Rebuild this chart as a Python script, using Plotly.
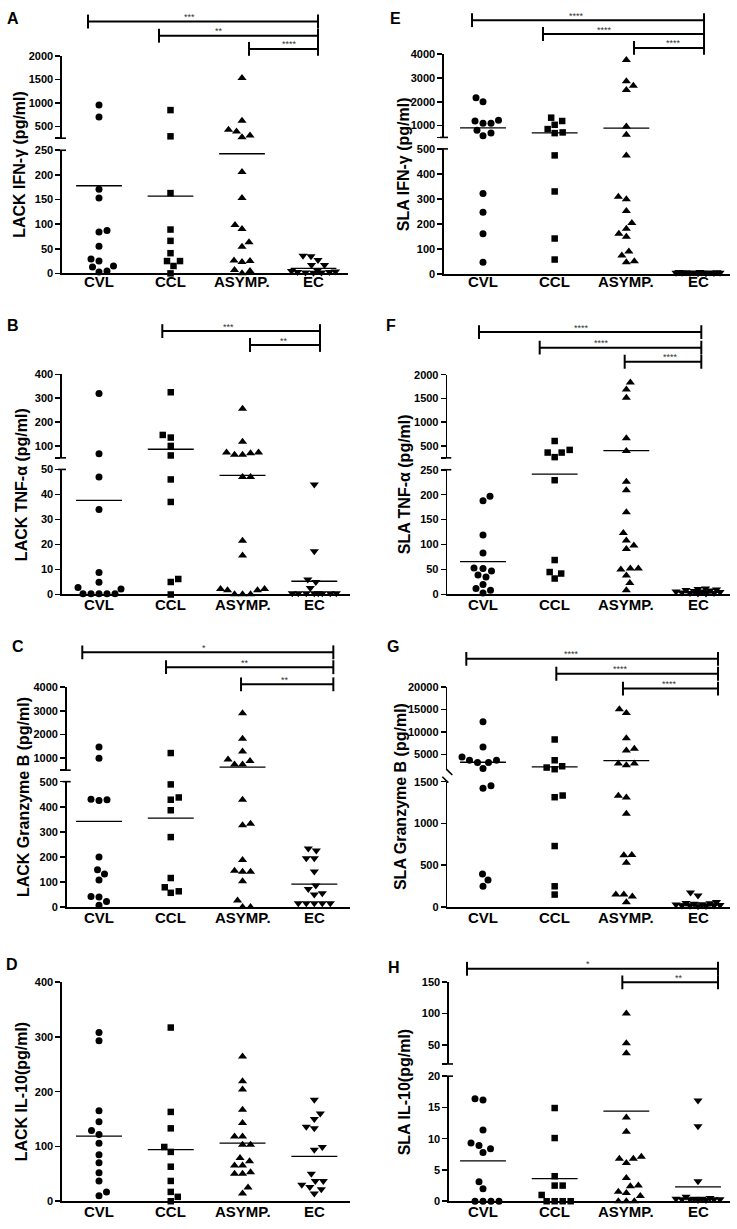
import plotly.graph_objects as go

W, H = 737, 1229
FONT = "Liberation Sans, Arial, Helvetica, sans-serif"

CATEGORIES = ["CVL", "CCL", "ASYMP.", "EC"]
SYMBOLS = ["circle", "square", "triangle-up", "triangle-down"]
SIZES = [7, 6.5, 8, 8]

# ---------------- data (pg/ml) ----------------
# A: LACK IFN-gamma
A_cvl = [960, 700, 171, 153, 87, 84, 55, 29, 25, 13, 15, 3, 5]
A_ccl = [850, 290, 163, 89, 66, 41, 25, 25, 15, 0]
A_asymp = [1535, 620, 395, 270, 310, 430, 206, 153, 98, 90, 63, 54, 25, 23, 26, 7, 0, 5]
A_ec = [35, 27, 36, 17, 17, 5, 3, 2, 4, 6, 3, 2, 1]
A_means = [178, 157, 243, 10]

# E: SLA IFN-gamma
E_cvl = [2170, 2000, 1220, 1100, 1100, 1190, 800, 570, 680, 322, 247, 161, 47]
E_ccl = [1330, 1190, 1030, 850, 680, 710, 474, 330, 142, 58]
E_asymp = [3760, 2860, 2670, 2490, 960, 610, 474, 309, 299, 252, 204, 181, 161, 149, 90, 74, 51, 47]
E_ec = [8, 6, 5, 4, 7, 3, 5, 6, 4, 8, 5, 3, 6, 7]
E_means = [900, 690, 890, 5]

# B: LACK TNF-alpha
B_cvl = [320, 67, 47, 34, 8.8, 4.9, 2.8, 2.2, 0.3, 0.3, 0.3, 0.3, 0.3]
B_ccl = [325, 146, 135, 100, 60, 46, 37, 6.2, 5, 0]
B_asymp = [256, 118, 72, 69, 63, 63, 72, 47, 47, 21.5, 15.6, 2.2, 1.7, 0.1, 0.1, 0.1, 1.7, 2.2]
B_ec = [44, 17.3, 6, 5, 2.6, 0.5, 0.5, 0.5, 0.5, 0.5, 0.5, 0.5, 0.5]
B_means = [37.6, 86, 47.6, 5.3]

# F: SLA TNF-alpha
F_cvl = [197, 188, 119, 83, 52, 53, 47, 39, 35, 20, 12, 3, 8.6]
F_ccl = [604, 417, 361, 265, 361, 229, 69, 45, 42, 32]
F_asymp = [1833, 1687, 1514, 660, 396, 226, 209, 165, 123, 108, 98, 91, 52, 50, 52, 38, 23, 8.6]
F_ec = [9, 6, 11, 4, 12, 2, 3, 5, 8, 10, 3, 2, 7, 6]
F_means = [66, 241, 400, 5.5]

# C: LACK Granzyme B
C_cvl = [1470, 1000, 430, 425, 428, 200, 149, 132, 108, 42, 40, 22, 7]
C_ccl = [1220, 489, 428, 437, 386, 279, 116, 79, 57, 63]
C_asymp = [2900, 1820, 1290, 890, 944, 736, 736, 428, 326, 332, 188, 141, 145, 141, 103, 26, 0, 0]
C_ec = [234, 226, 195, 195, 142, 86, 72, 55, 50, 15, 15, 15, 15, 15]
C_means = [342, 355, 625, 92]

# G: SLA Granzyme B
G_cvl = [12280, 6620, 3680, 4410, 3160, 3160, 3680, 1840, 1420, 1450, 395, 249, 324]
G_ccl = [8310, 3680, 2060, 1690, 2350, 1314, 1334, 730, 150, 249]
G_asymp = [15070, 14190, 8600, 6250, 5880, 2940, 2575, 2940, 1330, 1310, 1117, 620, 624, 529, 150, 126, 150, 59]
G_ec = [140, 175, 60, 40, 30, 20, 15, 10, 12, 18, 25, 35, 50, 45]
G_means = [3240, 2210, 3600, 39]

# D: LACK IL-10
D_cvl = [308, 293, 165, 145, 129, 122, 106, 85, 70, 52, 37, 17, 10]
D_ccl = [317, 163, 133, 99, 90, 63, 37, 17, 8, 0]
D_asymp = [264, 219, 204, 167, 143, 118, 118, 103, 103, 79, 73, 65, 65, 50, 50, 53, 25, 14]
D_ec = [185, 160, 150, 136, 133, 94, 99, 50, 37, 37, 30, 26, 22, 14]
D_means = [118.7, 94, 106, 82]

# H: SLA IL-10
H_cvl = [16.2, 16.4, 11.4, 8.9, 7.8, 8.4, 9.3, 3.1, 2.0, 0, 0, 0, 0]
H_ccl = [14.9, 10.1, 4.0, 2.5, 2.5, 1.0, 0, 0, 0, 0]
H_asymp = [100, 53, 37, 13.4, 11.1, 7.1, 6.8, 6.1, 6.8, 3.7, 2.4, 2.5, 1.3, 1.5, 0.85, 0, 0, 0]
H_ec = [16.1, 12.0, 3.2, 0.7, 0.4, 0.3, 0.3, 0.2, 0.3, 0.4, 0.2, 0.3, 0.4, 0.5]
H_means = [6.44, 3.6, 14.4, 2.3]

# ---------------- panel layout ----------------
PANELS = [
    dict(letter="A", ylabel="LACK IFN-γ (pg/ml)", groups=[A_cvl, A_ccl, A_asymp, A_ec], means=A_means,
         lower=(0, 250), lticks=[0, 50, 100, 150, 200, 250], upper=(250, 2000), uticks=[500, 1000, 1500, 2000],
         x=(62, 348), cat0=99, dx=71.5, y0=270, ylt=145.7, yub=133.5, yut=50.7, brk="cap",
         letter_xy=(12.5, 13), ylab_x=20, xlab_y=278,
         sig=[(-0.154, 3.063, 15.7, "***", 1.27), (0.839, 3.063, 30, "**", 1.68), (2.098, 3.063, 43.3, "****", 2.66)]),
    dict(letter="E", ylabel="SLA IFN-γ (pg/ml)", groups=[E_cvl, E_ccl, E_asymp, E_ec], means=E_means,
         lower=(0, 500), lticks=[0, 100, 200, 300, 400, 500], upper=(500, 4000), uticks=[1000, 2000, 3000, 4000],
         x=(444, 729.7), cat0=483, dx=71.67, y0=270.7, ylt=144.3, yub=132.7, yut=48.7, brk="cap",
         letter_xy=(395, 13), ylab_x=403, xlab_y=278,
         sig=[(-0.153, 3.084, 14.3, "****", 1.30), (0.837, 3.084, 28.3, "****", 1.69), (2.107, 3.084, 42.3, "****", 2.66)]),
    dict(letter="B", ylabel="LACK TNF-α (pg/ml)", groups=[B_cvl, B_ccl, B_asymp, B_ec], means=B_means,
         lower=(0, 50), lticks=[0, 10, 20, 30, 40, 50], upper=(50, 400), uticks=[100, 200, 300, 400],
         x=(62, 350), cat0=99, dx=71.77, y0=594.3, ylt=468, yub=456.3, yut=372, brk="cap",
         letter_xy=(13, 323), ylab_x=21.7, xlab_y=604,
         sig=[(0.882, 3.079, 328.3, "***", 1.80), (2.104, 3.079, 342.3, "**", 2.58)]),
    dict(letter="F", ylabel="SLA TNF-α (pg/ml)", groups=[F_cvl, F_ccl, F_asymp, F_ec], means=F_means,
         lower=(0, 250), lticks=[0, 50, 100, 150, 200, 250], upper=(250, 2000), uticks=[500, 1000, 1500, 2000],
         x=(447.3, 729.7), cat0=483, dx=71.67, y0=594.3, ylt=468.3, yub=456.3, yut=372.3, brk="cap",
         letter_xy=(391, 323), ylab_x=404.7, xlab_y=604,
         sig=[(-0.056, 3.046, 329.3, "****", 1.37), (0.791, 3.046, 345, "****", 1.65), (1.977, 3.046, 359.3, "****", 2.62)]),
    dict(letter="C", ylabel="LACK Granzyme B (pg/ml)", groups=[C_cvl, C_ccl, C_asymp, C_ec], means=C_means,
         lower=(0, 500), lticks=[0, 100, 200, 300, 400, 500], upper=(500, 4000), uticks=[1000, 2000, 3000, 4000],
         x=(66.7, 350), cat0=99, dx=71.77, y0=910, ylt=783.3, yub=771.7, yut=687.7, brk="cap",
         letter_xy=(18, 647), ylab_x=23, xlab_y=920,
         sig=[(-0.233, 3.265, 652.7, "*", 1.46), (0.934, 3.265, 667.7, "**", 2.03), (1.979, 3.265, 685, "**", 2.59)]),
    dict(letter="G", ylabel="SLA Granzyme B (pg/ml)", groups=[G_cvl, G_ccl, G_asymp, G_ec], means=G_means,
         lower=(0, 1500), lticks=[0, 500, 1000, 1500], upper=(1500, 20000), uticks=[5000, 10000, 15000, 20000],
         x=(447.3, 729.7), cat0=483, dx=71.67, y0=910, ylt=783.3, yub=771.6, yut=687.7, brk="diag",
         letter_xy=(393, 647), ylab_x=400, xlab_y=920,
         sig=[(-0.233, 3.279, 659.3, "****", 1.24), (1.023, 3.279, 674.3, "****", 1.92), (1.953, 3.279, 689.3, "****", 2.60)]),
    dict(letter="D", ylabel="LACK IL-10(pg/ml)", groups=[D_cvl, D_ccl, D_asymp, D_ec], means=D_means,
         lower=(0, 400), lticks=[0, 100, 200, 300, 400], upper=None, uticks=[],
         x=(62, 350), cat0=99, dx=71.77, y0=1207, ylt=985.7, yub=None, yut=None, brk=None,
         letter_xy=(12, 968), ylab_x=21.7, xlab_y=1217, sig=[]),
    dict(letter="H", ylabel="SLA IL-10(pg/ml)", groups=[H_cvl, H_ccl, H_asymp, H_ec], means=H_means,
         lower=(0, 20), lticks=[0, 5, 10, 15, 20], upper=(20, 150), uticks=[50, 100, 150],
         x=(449, 729.7), cat0=483, dx=71.67, y0=1207, ylt=1080.7, yub=1068.4, yut=985.7, brk="cap",
         letter_xy=(394, 971), ylab_x=404.7, xlab_y=1217,
         sig=[(-0.223, 3.279, 972.3, "*", 1.47), (1.944, 3.279, 986, "**", 2.74)]),
]

AXW = 1.6
MAXW = 22.0  # max half-width (px) of a swarm row


def xp(px):
    return px / W


def yp(py):
    return 1 - py / H


def value_px(p, v):
    lo_max = p["lower"][1]
    if p["upper"] is None or v <= lo_max:
        return p["y0"] - v / lo_max * (p["y0"] - p["ylt"])
    umin, umax = p["upper"]
    return p["yub"] - (v - umin) / (umax - umin) * (p["yub"] - p["yut"])


def swarm(vals, p, dist=8.0):
    ys = [value_px(p, v) for v in vals]
    order = sorted(range(len(vals)), key=lambda i: -ys[i])
    placed, offs, flip = [], [0.0] * len(vals), 1
    for i in order:
        y = ys[i]
        found, best, best_d = None, 0.0, -1.0
        k = 0
        while found is None and k * 0.5 <= MAXW:
            for s in ((1, -1) if flip > 0 else (-1, 1)):
                x = s * k * 0.5
                dmin = min([((x - a) ** 2 + (y - b) ** 2) ** 0.5 for a, b in placed] or [1e9])
                if dmin >= dist:
                    found = x
                    break
                if dmin > best_d:
                    best_d, best = dmin, x
            k += 1
        if found is None:
            found = best
        if found != 0:
            flip = -flip
        placed.append((found, y))
        offs[i] = found
    return offs


fig = go.Figure()
layout = dict(width=W, height=H, margin=dict(l=0, r=0, t=0, b=0), paper_bgcolor="white",
              plot_bgcolor="rgba(0,0,0,0)", showlegend=False, font=dict(family=FONT, color="black"))
shapes, annotations = [], []
yidx = 0

for pi, p in enumerate(PANELS):
    xi = pi + 1
    xname = "x" if xi == 1 else f"x{xi}"
    yidx += 1
    lo_i = yidx
    ylo = "y" if lo_i == 1 else f"y{lo_i}"
    yhi = None
    if p["upper"] is not None:
        yidx += 1
        yhi = f"y{yidx}"
    r0 = (p["x"][0] - p["cat0"]) / p["dx"]
    r1 = (p["x"][1] - p["cat0"]) / p["dx"]

    layout["xaxis" if xi == 1 else f"xaxis{xi}"] = dict(
        domain=[xp(p["x"][0]), xp(p["x"][1])], range=[r0, r1], anchor=ylo,
        showline=True, linewidth=AXW, linecolor="black", ticks="", showgrid=False, zeroline=False,
        showticklabels=False, fixedrange=True)
    layout["yaxis" if lo_i == 1 else f"yaxis{lo_i}"] = dict(
        domain=[yp(p["y0"]), yp(p["ylt"])], range=list(p["lower"]), anchor=xname,
        showline=True, linewidth=AXW, linecolor="black", ticks="outside", ticklen=5,
        tickwidth=AXW, tickcolor="black", showgrid=False, zeroline=False,
        tickvals=p["lticks"], ticktext=[str(t) for t in p["lticks"]],
        tickfont=dict(family=FONT, size=11, color="black", weight="bold"), fixedrange=True)
    if yhi:
        umin = p["upper"][0]
        tv = ([umin] if p["brk"] == "cap" else []) + p["uticks"]
        tt = ([""] if p["brk"] == "cap" else []) + [str(t) for t in p["uticks"]]
        layout[f"yaxis{yidx}"] = dict(
            domain=[yp(p["yub"]), yp(p["yut"])], range=list(p["upper"]), anchor=xname,
            showline=True, linewidth=AXW, linecolor="black", ticks="outside", ticklen=5,
            tickwidth=AXW, tickcolor="black", showgrid=False, zeroline=False,
            tickvals=tv, ticktext=tt,
            tickfont=dict(family=FONT, size=11, color="black", weight="bold"), fixedrange=True)
        ax = p["x"][0]
        if p["brk"] == "cap":
            for yy in (p["ylt"], p["yub"]):
                shapes.append(dict(type="line", xref="paper", yref="paper",
                                   x0=xp(ax - 4), x1=xp(ax + 4), y0=yp(yy), y1=yp(yy),
                                   line=dict(color="black", width=AXW)))
        else:
            shapes.append(dict(type="line", xref="paper", yref="paper",
                               x0=xp(ax - 1), x1=xp(ax + 5), y0=yp(p["yub"] - 1), y1=yp(p["yub"] + 5),
                               line=dict(color="black", width=AXW)))
            shapes.append(dict(type="line", xref="paper", yref="paper",
                               x0=xp(ax - 5), x1=xp(ax + 1), y0=yp(p["ylt"] - 5), y1=yp(p["ylt"] + 1),
                               line=dict(color="black", width=AXW)))

    # category labels
    for gi, cat in enumerate(CATEGORIES):
        annotations.append(dict(text=cat, xref=xname, yref="paper", x=gi, y=yp(p["xlab_y"]),
                                xanchor="center", yanchor="middle", showarrow=False,
                                font=dict(family=FONT, size=15, color="black", weight="bold")))

    lo_max = p["lower"][1]
    for gi, vals in enumerate(p["groups"]):
        offs = swarm(vals, p)
        xs = [gi + o / p["dx"] for o in offs]
        lo_pts = [(x, v) for x, v in zip(xs, vals) if yhi is None or v <= lo_max]
        hi_pts = [(x, v) for x, v in zip(xs, vals) if yhi is not None and v > lo_max]
        for pts, yname in ((lo_pts, ylo), (hi_pts, yhi)):
            if not pts:
                continue
            fig.add_trace(go.Scatter(
                x=[a for a, _ in pts], y=[b for _, b in pts], mode="markers", xaxis=xname, yaxis=yname,
                cliponaxis=False, hoverinfo="skip",
                marker=dict(symbol=SYMBOLS[gi], size=SIZES[gi], color="black", line=dict(width=0))))
        m = p["means"][gi]
        fig.add_trace(go.Scatter(
            x=[gi - 0.32, gi + 0.32], y=[m, m], mode="lines", xaxis=xname,
            yaxis=(yhi if (yhi is not None and m > lo_max) else ylo), cliponaxis=False,
            hoverinfo="skip", line=dict(color="black", width=1.3)))

    # significance bars
    for (a, b, yy, lab, lx) in p["sig"]:
        shapes.append(dict(type="line", xref=xname, yref="paper", x0=a, x1=b, y0=yp(yy), y1=yp(yy),
                           line=dict(color="black", width=2)))
        for xx in (a, b):
            shapes.append(dict(type="line", xref=xname, yref="paper", x0=xx, x1=xx,
                               y0=yp(yy - 7), y1=yp(yy + 7), line=dict(color="black", width=2)))
        annotations.append(dict(text=lab, xref=xname, yref="paper", x=lx, y=yp(yy - 4.5),
                                xanchor="center", yanchor="middle", showarrow=False,
                                font=dict(family=FONT, size=9, color="#333333")))

    annotations.append(dict(text=p["letter"], xref="paper", yref="paper", x=xp(p["letter_xy"][0]),
                            y=yp(p["letter_xy"][1]), xanchor="center", yanchor="middle", showarrow=False,
                            font=dict(family=FONT, size=16, color="black", weight="bold")))
    ymid = (p["y0"] + (p["yut"] if p["yut"] is not None else p["ylt"])) / 2
    annotations.append(dict(text=p["ylabel"], xref="paper", yref="paper", x=xp(p["ylab_x"]), y=yp(ymid),
                            xanchor="center", yanchor="middle", textangle=-90, showarrow=False,
                            font=dict(family=FONT, size=16, color="black", weight="bold")))

layout["shapes"] = shapes
layout["annotations"] = annotations
fig.update_layout(**layout)
fig.write_html("out.html", config={"displayModeBar": False, "staticPlot": True},
               post_script="document.body.style.margin='0';document.body.style.overflow='hidden';")
